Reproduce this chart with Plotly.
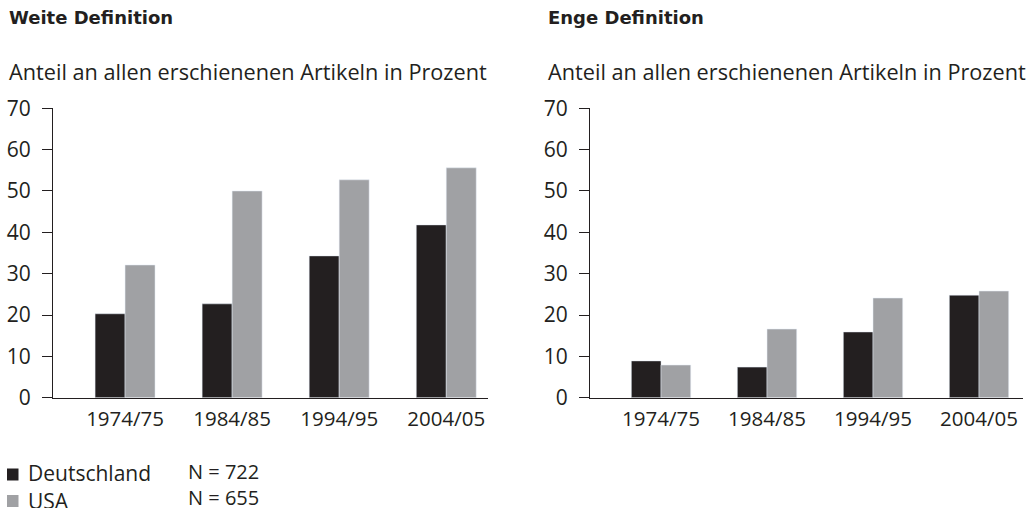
import plotly.graph_objects as go

categories = ["1974/75", "1984/85", "1994/95", "2004/05"]
weit_de = [20.3, 22.7, 34.3, 41.8]
weit_us = [32.1, 50.0, 52.7, 55.6]
eng_de = [8.9, 7.4, 15.9, 24.8]
eng_us = [7.9, 16.6, 24.1, 25.8]
series_names = ["Deutschland", "USA"]
n_labels = ["N = 722", "N = 655"]
panel_titles = ["Weite Definition", "Enge Definition"]
y_title = "Anteil an allen erschienenen Artikeln in Prozent"
y_ticks = [0, 10, 20, 30, 40, 50, 60, 70]

DARK = "#231f20"
GRAY = "#a0a1a4"
SERIES_COLORS = [DARK, GRAY]
FONT = "Open Sans"
W, H = 1030, 508

fig = go.Figure()
fig.add_trace(go.Bar(x=categories, y=weit_de, name=series_names[0], marker_color=DARK,
                     xaxis="x", yaxis="y", showlegend=False))
fig.add_trace(go.Bar(x=categories, y=weit_us, name=series_names[1], marker_color=GRAY,
                     xaxis="x", yaxis="y", showlegend=False))
fig.add_trace(go.Bar(x=categories, y=eng_de, name=series_names[0], marker_color=DARK,
                     xaxis="x2", yaxis="y2", showlegend=False))
fig.add_trace(go.Bar(x=categories, y=eng_us, name=series_names[1], marker_color=GRAY,
                     xaxis="x2", yaxis="y2", showlegend=False))

def px_x(p):
    return p / W

def px_y(p):
    return 1 - p / H

y_dom = [px_y(397.7), px_y(108.3)]

xcommon = dict(type="category", showline=True, linecolor=DARK, linewidth=1, ticks="",
               showgrid=False, zeroline=False, automargin=False,
               tickfont=dict(family=FONT, size=20.5, color=DARK), ticklabelstandoff=3)
ycommon = dict(range=[0, 70], tickvals=y_ticks, showline=True, linecolor=DARK, linewidth=1,
               ticks="outside", ticklen=10, tickcolor=DARK, tickwidth=1, showgrid=False,
               zeroline=False, automargin=False,
               tickfont=dict(family=FONT, size=21, color=DARK), ticklabelstandoff=7)

fig.update_layout(
    width=W, height=H,
    margin=dict(l=0, r=0, t=0, b=0, autoexpand=False),
    paper_bgcolor="white", plot_bgcolor="white",
    barmode="group", bargap=0.44, bargroupgap=0,
    font=dict(family=FONT, color=DARK, size=21),
    showlegend=False,
    xaxis=dict(domain=[px_x(53), px_x(488)], range=[-0.673, 3.39], anchor="y", **xcommon),
    yaxis=dict(domain=y_dom, anchor="x", **ycommon),
    xaxis2=dict(domain=[px_x(590), px_x(1023)], range=[-0.67, 3.415], anchor="y2", **xcommon),
    yaxis2=dict(domain=y_dom, anchor="x2", **ycommon),
)

annotations = []
for title, xp in zip(panel_titles, [6.5, 546]):
    annotations.append(dict(text="<b>" + title + "</b>", x=px_x(xp), y=px_y(17.5), xref="paper", yref="paper",
                            xanchor="left", yanchor="middle", showarrow=False,
                            font=dict(family="DejaVu Sans", size=18, color=DARK)))
    annotations.append(dict(text=y_title, x=px_x(xp), y=px_y(72), xref="paper", yref="paper",
                            xanchor="left", yanchor="middle", showarrow=False,
                            font=dict(family=FONT, size=21.7, color=DARK)))
# legend (swatches + labels) and sample sizes
shapes = []
for name, col, yc, ty in zip(series_names, SERIES_COLORS, [474.5, 501], [472.5, 500.5]):
    shapes.append(dict(type="rect", xref="paper", yref="paper",
                       x0=px_x(7), x1=px_x(18.5), y0=px_y(yc - 6), y1=px_y(yc + 6),
                       fillcolor=col, line=dict(width=0)))
    annotations.append(dict(text=name, x=px_x(26), y=px_y(ty), xref="paper", yref="paper",
                            xanchor="left", yanchor="middle", showarrow=False,
                            font=dict(family=FONT, size=21, color=DARK)))
annotations.append(dict(text="<br>".join(n_labels), x=px_x(186), y=px_y(484), xref="paper", yref="paper",
                        xanchor="left", yanchor="middle", align="left", showarrow=False,
                        font=dict(family=FONT, size=20, color=DARK)))
fig.update_layout(annotations=annotations, shapes=shapes)

fig.write_html("out.html", config={"displayModeBar": False},
               post_script="document.body.style.margin='0';document.body.style.overflow='hidden';")
